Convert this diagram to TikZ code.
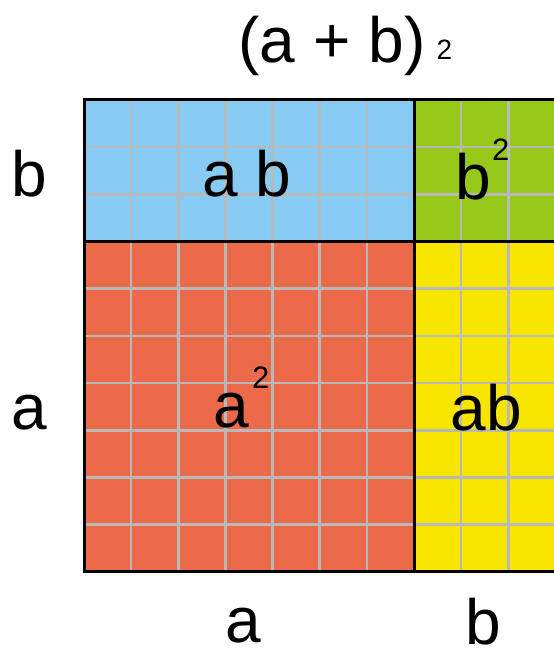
\documentclass[tikz,border=0pt]{standalone}
\usepackage{fontspec}
\setmainfont{Liberation Sans}
\definecolor{cblue}{RGB}{135,203,242}
\definecolor{cgreen}{RGB}{150,201,26}
\definecolor{cred}{RGB}{234,106,73}
\definecolor{cyel}{RGB}{247,229,0}
\definecolor{cgrid}{RGB}{185,185,185}
\tikzset{
  big/.style={inner sep=0pt, anchor=base, font=\fontsize{64}{70}\selectfont},
  sup/.style={inner sep=0pt, anchor=base west, font=\fontsize{31}{34}\selectfont},
  gridline/.style={draw=cgrid, line width=2.6pt},
  border/.style={draw=black, line width=3pt},
}
\begin{document}
\begin{tikzpicture}[x=1pt,y=1pt]
\useasboundingbox (0,0) rectangle (554,651);
\clip (0,0) rectangle (554,651);
% geometry (y up): x0=84, xa=414, xb=555.5 ; ytop=551, ymid=409.5, ybot=79
\fill[cblue]  (84,409.5) rectangle (414,551);
\fill[cgreen] (414,409.5) rectangle (556,551);
\fill[cred]   (84,79) rectangle (414,409.5);
\fill[cyel]   (414,79) rectangle (556,409.5);
% grid
\foreach \i in {1,...,9} {
  \draw[gridline] ({84+\i*47.143},79) -- ({84+\i*47.143},551);
}
\foreach \j in {1,2} {
  \draw[gridline] (84,{409.5+\j*47.17}) -- (556,{409.5+\j*47.17});
}
\foreach \j in {1,...,6} {
  \draw[gridline] (84,{79+\j*47.21}) -- (556,{79+\j*47.21});
}
% borders
\draw[border] (560,551) -- (84,551) -- (84,79) -- (560,79);
\draw[border] (84,409.5) -- (560,409.5);
\draw[border] (414,551) -- (414,79);
% title
\node[big] (title) at (332,588) {(a + b)};
\node[inner sep=0pt, anchor=base west, font=\fontsize{28}{30}\selectfont] (titlesq) at (436.5,591) {2};
% labels in areas
\node[big] (ab1) at (246.5,454) {a b};
\node[big] (bsq) at (473,451) {b};
\node[sup] (bsq2) at (492,490) {2};
\node[big] (asq) at (231.5,223) {a};
\node[sup] (asq2) at (252,262) {2};
\node[big] (ab2) at (486.5,220) {ab};
% side labels
\node[big] (lb) at (29.5,454) {b};
\node[big] (la) at (29.5,221) {a};
\node[big] (ba) at (243.5,9) {a};
\node[big] (bb) at (483.5,6) {b};
\end{tikzpicture}
\end{document}
